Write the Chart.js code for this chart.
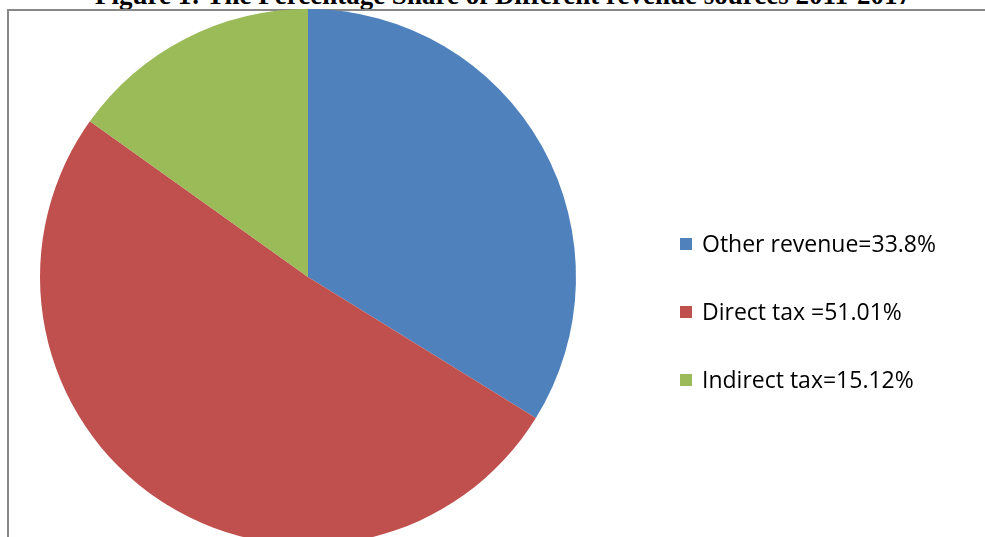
<!DOCTYPE html>
<html>
<head>
<meta charset="utf-8">
<script src="https://cdn.jsdelivr.net/npm/chart.js@4/dist/chart.umd.min.js"></script>
<style>
    body { margin: 0; background: #fff; overflow: hidden; }
    #wrap { position: relative; width: 985px; height: 537px; overflow: hidden; }
    #title {
        position: absolute; left: 0; width: 1006px; top: -18px; text-align: center;
        font-family: "Liberation Serif", "Times New Roman", serif; font-weight: bold;
        font-size: 27px; line-height: 27px; white-space: nowrap;
    }
    #frame {
        position: absolute; left: 7px; top: 9px; width: 1000px; height: 600px;
        border-top: 2px solid #888; border-left: 2px solid #888;
    }
    #myChart { position: absolute; left: 0; top: 0; }
</style>
</head>
<body>
<div id="wrap">
    <div id="title">Figure 1: The Percentage Share of Different revenue sources 2011-2017</div>
    <div id="frame"></div>
    <canvas id="myChart" width="985" height="560"></canvas>
</div>
<script>
const labels = ["Other revenue=33.8%", "Direct tax =51.01%", "Indirect tax=15.12%"];
const shares = [33.8, 51.01, 15.12];
const colors = ["#4F81BD", "#C0504D", "#9BBB59"];

// legend drawn by hand so it sits where the original one does
const sideLegend = {
    id: "sideLegend",
    afterDraw(chart) {
        const ctx = chart.ctx;
        ctx.save();
        ctx.font = "23px 'Open Sans', sans-serif";
        ctx.textBaseline = "middle";
        chart.data.labels.forEach((txt, i) => {
            const y = 245 + i * 68;
            ctx.fillStyle = chart.data.datasets[0].backgroundColor[i];
            ctx.fillRect(680, y - 7, 12, 12);
            ctx.fillStyle = "#000";
            ctx.fillText(txt, 702, y);
        });
        ctx.restore();
    }
};

const config = {
    type: "pie",
    data: {
        labels: labels,
        datasets: [{
            data: shares,
            backgroundColor: colors,
            borderWidth: 0
        }]
    },
    options: {
        responsive: false,
        animation: false,
        layout: {
            padding: { left: 40, top: 9, right: 409, bottom: 15 }
        },
        plugins: {
            legend: { display: false },
            tooltip: { enabled: false }
        }
    },
    plugins: [sideLegend]
};

var myChart = new Chart(document.getElementById("myChart"), config);
</script>
</body>
</html>
